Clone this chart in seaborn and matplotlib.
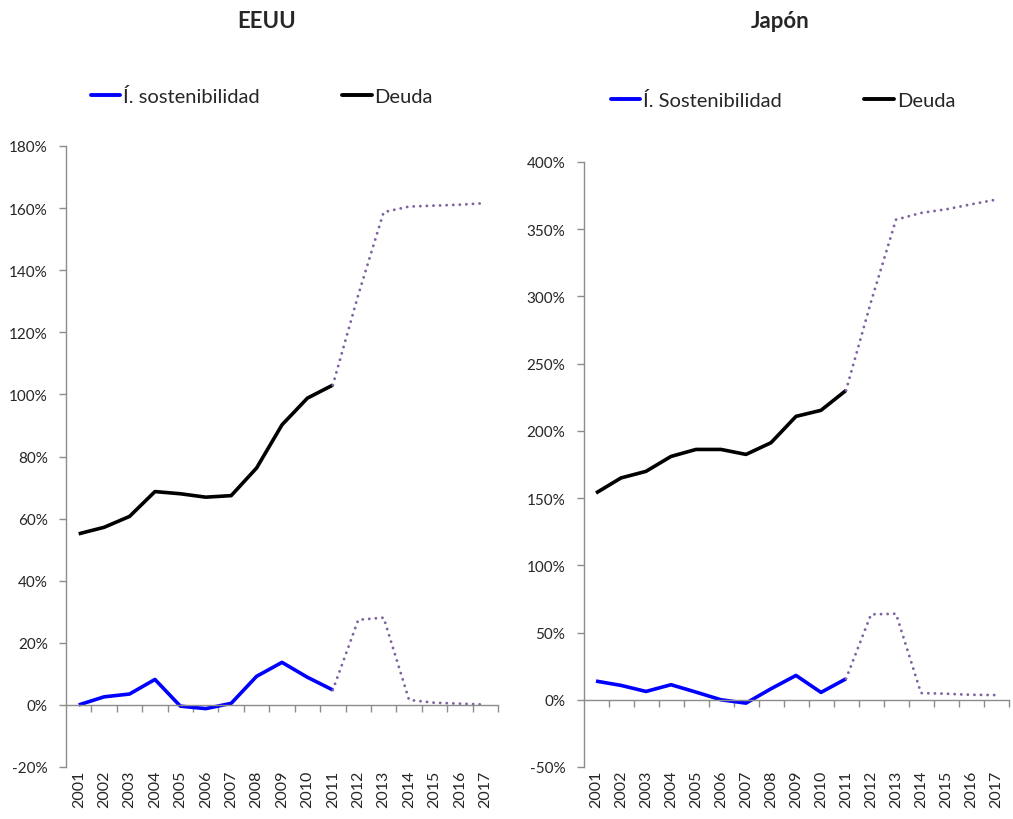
import matplotlib
matplotlib.use("Agg")
import matplotlib.pyplot as plt
from matplotlib.lines import Line2D
from matplotlib.ticker import FixedLocator, FuncFormatter
import seaborn as sns
import pandas as pd

# Years on the category axis
years = [str(y) for y in range(2001, 2018)]
hist_years = years[:11]          # 2001-2011 observed
proj_years = years[10:]          # 2011-2017 projection (starts at 2011 to join)

# EEUU (% of GDP)
us_debt_hist = [55.1, 57.2, 60.7, 68.7, 68.0, 66.9, 67.4, 76.3, 90.2, 98.8, 103.0]
us_debt_proj = [103.0, 132.0, 158.7, 160.5, 160.8, 161.1, 161.6]
us_sust_hist = [0.0, 2.6, 3.5, 8.2, -0.4, -1.2, 0.5, 9.2, 13.7, 8.9, 4.8]
us_sust_proj = [4.8, 27.4, 28.1, 1.6, 0.7, 0.4, 0.1]

# Japón (% of GDP)
jp_debt_hist = [153.8, 165.0, 169.9, 181.0, 186.2, 186.2, 182.5, 191.2, 210.8, 215.3, 230.1]
jp_debt_proj = [230.1, 296.0, 357.1, 362.1, 364.8, 368.5, 372.0]
jp_sust_hist = [13.9, 10.7, 6.2, 11.2, 5.7, 0.0, -2.5, 8.2, 18.1, 5.5, 15.6]
jp_sust_proj = [15.6, 63.5, 64.0, 5.0, 4.5, 3.7, 3.5]

titles = ["EEUU", "Japón"]
sust_labels = ["Í. sostenibilidad", "Í. Sostenibilidad"]
debt_label = "Deuda"
us_ticks = list(range(-20, 181, 20))
jp_ticks = list(range(-50, 401, 50))

BLUE = "#0000FF"
BLACK = "#000000"
PURPLE = "#7F63A1"
GREY = "#8C8C8C"

sns.set_theme(style="white")
plt.rcParams["font.family"] = ["Lato", "DejaVu Sans"]

W, H = 1013, 820
fig = plt.figure(figsize=(W / 100, H / 100), dpi=100)


def px_axes(x0, x1, ytop, ybot):
    return fig.add_axes([x0 / W, (H - ybot) / H, (x1 - x0) / W, (ybot - ytop) / H])


def draw_panel(ax, debt_h, debt_p, sust_h, sust_p, yticks):
    n = len(years)
    xh = list(range(len(hist_years)))
    xp = list(range(10, 10 + len(proj_years)))
    sns.lineplot(x=xh, y=debt_h, ax=ax, color=BLACK, linewidth=2.6,
                 solid_capstyle="butt")
    sns.lineplot(x=xh, y=sust_h, ax=ax, color=BLUE, linewidth=2.6,
                 solid_capstyle="butt")
    for vals in (debt_p, sust_p):
        sns.lineplot(x=xp, y=vals, ax=ax, color=PURPLE, linewidth=2.1,
                     linestyle=(0, (0.01, 2.25)), dash_capstyle="round")

    ax.set_xlim(-0.5, n - 0.5)
    ax.set_ylim(yticks[0], yticks[-1])
    for s in ("top", "right"):
        ax.spines[s].set_visible(False)
    ax.spines["left"].set_color(GREY)
    ax.spines["left"].set_linewidth(1.0)
    ax.spines["bottom"].set_position(("data", 0))
    ax.spines["bottom"].set_color(GREY)
    ax.spines["bottom"].set_linewidth(1.0)

    ax.yaxis.set_major_locator(FixedLocator(yticks))
    ax.yaxis.set_major_formatter(FuncFormatter(lambda v, p: f"{v:.0f}%"))
    ax.tick_params(axis="y", which="major", direction="out", length=5,
                   width=1, color=GREY, pad=8, labelsize=11, left=True)

    ax.xaxis.set_major_locator(FixedLocator(range(n)))
    ax.xaxis.set_minor_locator(FixedLocator([i + 0.5 for i in range(n)]))
    ax.tick_params(axis="x", which="major", length=0, labelbottom=False)
    ax.tick_params(axis="x", which="minor", direction="out", length=5,
                   width=1, color=GREY, bottom=True)
    trans = ax.get_xaxis_transform()
    for i, yr in enumerate(years):
        ax.text(i, -0.004, yr, transform=trans, rotation=90, ha="center",
                va="top", fontsize=11.5)
    ax.set_xlabel("")
    ax.set_ylabel("")
    ax.grid(False)
    if ax.get_legend():
        ax.get_legend().remove()


ax1 = px_axes(66, 498, 147, 768)
draw_panel(ax1, us_debt_hist, us_debt_proj, us_sust_hist, us_sust_proj, us_ticks)
ax2 = px_axes(583.5, 1008.5, 163, 768)
draw_panel(ax2, jp_debt_hist, jp_debt_proj, jp_sust_hist, jp_sust_proj, jp_ticks)

fig.text(267 / W, 1 - 22 / H, titles[0], ha="center", va="center",
         fontsize=16, fontweight="bold")
fig.text(780 / W, 1 - 22 / H, titles[1], ha="center", va="center",
         fontsize=16, fontweight="bold")

# Legends above each panel
for lab, (bx, by) in zip(sust_labels, [(92, 97), (612, 101)]):
    handles = [Line2D([], [], color=BLUE, linewidth=2.8),
               Line2D([], [], color=BLACK, linewidth=2.8)]
    fig.legend(handles, [lab, debt_label], loc="center left",
               bbox_to_anchor=(bx / W - 0.009, 1 - by / H), ncol=2,
               frameon=False, fontsize=14.5, handlelength=1.45,
               handletextpad=0.15, columnspacing=4.1, borderaxespad=0)

fig.savefig("out.png", dpi=100)
